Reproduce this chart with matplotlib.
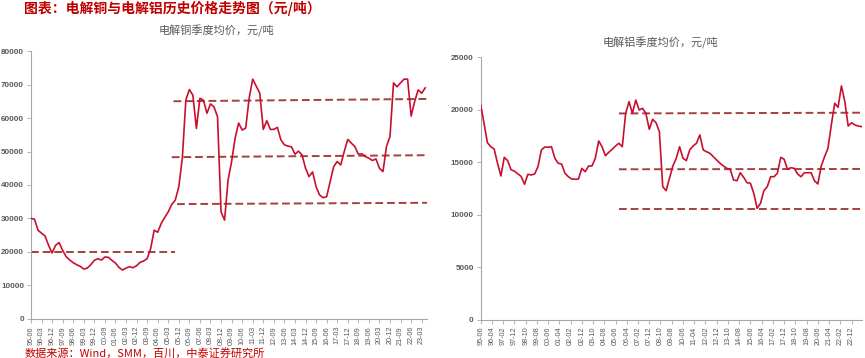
import matplotlib
matplotlib.use('Agg')
import matplotlib.pyplot as plt

plt.rcParams['font.family'] = ['Noto Sans CJK SC', 'DejaVu Sans']

# copper quarterly average, from 95-06, yuan/ton
cu_values = [30000, 29800, 26500, 25600, 24800, 22000, 19700, 22000, 22800, 20500,
             18600, 17600, 16800, 16200, 15700, 14900, 15200, 16200, 17500, 18000,
             17600, 18500, 18400, 17500, 16700, 15400, 14600, 15200, 15600, 15300,
             15900, 16900, 17300, 18000, 21000, 26500, 25900, 28500, 30300, 32000,
             34200, 35500, 39500, 48000, 65400, 68500, 66800, 56900, 65900, 65300,
             61400, 64200, 63300, 60400, 32000, 29500, 41500, 47000, 54000, 58500,
             56400, 57000, 66000, 71600, 69500, 67400, 56600, 59200, 56600, 56600,
             57200, 53500, 52000, 51600, 51400, 49200, 50100, 49000, 45000, 42500,
             43900, 39500, 37000, 36200, 36500, 41000, 45500, 47000, 46000, 50000,
             53600, 52500, 51500, 49200, 49300, 48500, 48000, 47300, 47800, 45000,
             44000, 51500, 54500, 70500, 69300, 70500, 71600, 71600, 60600, 64900,
             68400, 67400, 69000]

# aluminium quarterly average, from 95-06, yuan/ton
al_values = [20460, 18700, 16860, 16480, 16260, 14900, 13690, 15470, 15150, 14300,
             14150, 13900, 13650, 12900, 13850, 13790, 13880, 14580, 16170, 16450,
             16430, 16480, 15380, 14900, 14830, 13950, 13620, 13400, 13380, 13400,
             14420, 14100, 14640, 14640, 15380, 17030, 16480, 15620, 15950, 16230,
             16550, 16810, 16480, 19660, 20770, 19660, 20930, 19980, 20140, 19660,
             18140, 19090, 18770, 17910, 12670, 12290, 13470, 14640, 15380, 16480,
             15380, 15150, 16170, 16550, 16810, 17600, 16170, 16000, 15850, 15530,
             15210, 14900, 14640, 14420, 14330, 13310, 13240, 14000, 13570, 13050,
             13000, 12040, 10610, 11090, 12290, 12670, 13620, 13620, 13950, 15470,
             15280, 14330, 14480, 14420, 13880, 13620, 14000, 14000, 14000, 13240,
             12930, 14640, 15530, 16330, 18550, 20620, 20240, 22270, 20770, 18450,
             18770, 18550, 18450, 18390]

# reference levels (start/end values), copper in quarter index, aluminium in months
cu_levels = [(0, 41, 20000, 20000), (40.5, 113.5, 65000, 65700),
             (40, 113, 48300, 48900), (41.5, 114.5, 34300, 34700)]
al_levels = [(123, 339.5, 19650, 19720), (123, 339.5, 14330, 14360),
             (123, 339.5, 10520, 10520)]

def q_label(start_year, start_month, months):
    tot = start_year * 12 + start_month - 1 + months
    return '%02d-%02d' % ((tot // 12) % 100, tot % 12 + 1)

cu_ticks = list(range(0, len(cu_values), 3))
cu_tick_labels = [q_label(1995, 6, 3 * i) for i in cu_ticks]
al_ticks = list(range(0, 331, 10))
al_tick_labels = [q_label(1995, 6, m) for m in al_ticks]

line_c = '#C8102E'
dash_c = '#A5403F'
grey = '#595959'

fig = plt.figure(figsize=(8.65, 3.58), dpi=100)
ax1 = fig.add_axes([0.0358, 0.109, 0.4578, 0.7485])
ax2 = fig.add_axes([0.5557, 0.107, 0.4411, 0.733])

ax1.plot(range(len(cu_values)), cu_values, color=line_c, lw=1.2, zorder=3)
for x0, x1, y0, y1 in cu_levels:
    ax1.plot([x0, x1], [y0, y1], color=dash_c, lw=1.4, ls=(0, (4, 2)), zorder=2)
ax1.set_xlim(0, 112.5)
ax1.set_ylim(0, 80000)
ax1.set_yticks(range(0, 80001, 10000))
ax1.set_xticks(cu_ticks)
ax1.set_xticklabels(cu_tick_labels, rotation=90)

al_x = [3 * k for k in range(len(al_values))]
ax2.plot(al_x, al_values, color=line_c, lw=1.2, zorder=3)
for x0, x1, y0, y1 in al_levels:
    ax2.plot([x0, x1], [y0, y1], color=dash_c, lw=1.4, ls=(0, (4, 2)), zorder=2)
ax2.set_xlim(0, 339.5)
ax2.set_ylim(0, 25000)
ax2.set_yticks(range(0, 25001, 5000))
ax2.set_xticks(al_ticks)
ax2.set_xticklabels(al_tick_labels, rotation=90)

for ax in (ax1, ax2):
    for s in ('top', 'right'):
        ax.spines[s].set_visible(False)
    for s in ('left', 'bottom'):
        ax.spines[s].set_color('#A6A6A6')
        ax.spines[s].set_linewidth(0.8)
    ax.tick_params(axis='both', colors='#A6A6A6', length=3, width=0.6,
                   labelcolor=grey, pad=2)
    ax.tick_params(axis='y', labelsize=5.8)
    ax.tick_params(axis='x', labelsize=5.2)
    for lab in ax.get_xticklabels():
        lab.set_family(['Liberation Sans', 'DejaVu Sans'])
    for lab in ax.get_yticklabels():
        lab.set_family(['Liberation Sans', 'DejaVu Sans'])
        lab.set_fontweight('bold')

fig.text(0.25, 0.913, '电解铜季度均价，元/吨', ha='center', va='center',
         fontsize=8, color=grey)
fig.text(0.763, 0.88, '电解铝季度均价，元/吨', ha='center', va='center',
         fontsize=8, color=grey)
fig.text(0.028, 0.975, '图表：电解铜与电解铝历史价格走势图（元/吨）', ha='left',
         va='center', fontsize=10, color='#C00000', fontweight='bold', style='italic')
fig.text(0.028, 0.014, '数据来源：Wind，SMM，百川，中泰证券研究所', ha='left',
         va='center', fontsize=8, color='#C00000', style='italic')

fig.savefig('out.png', dpi=100)
